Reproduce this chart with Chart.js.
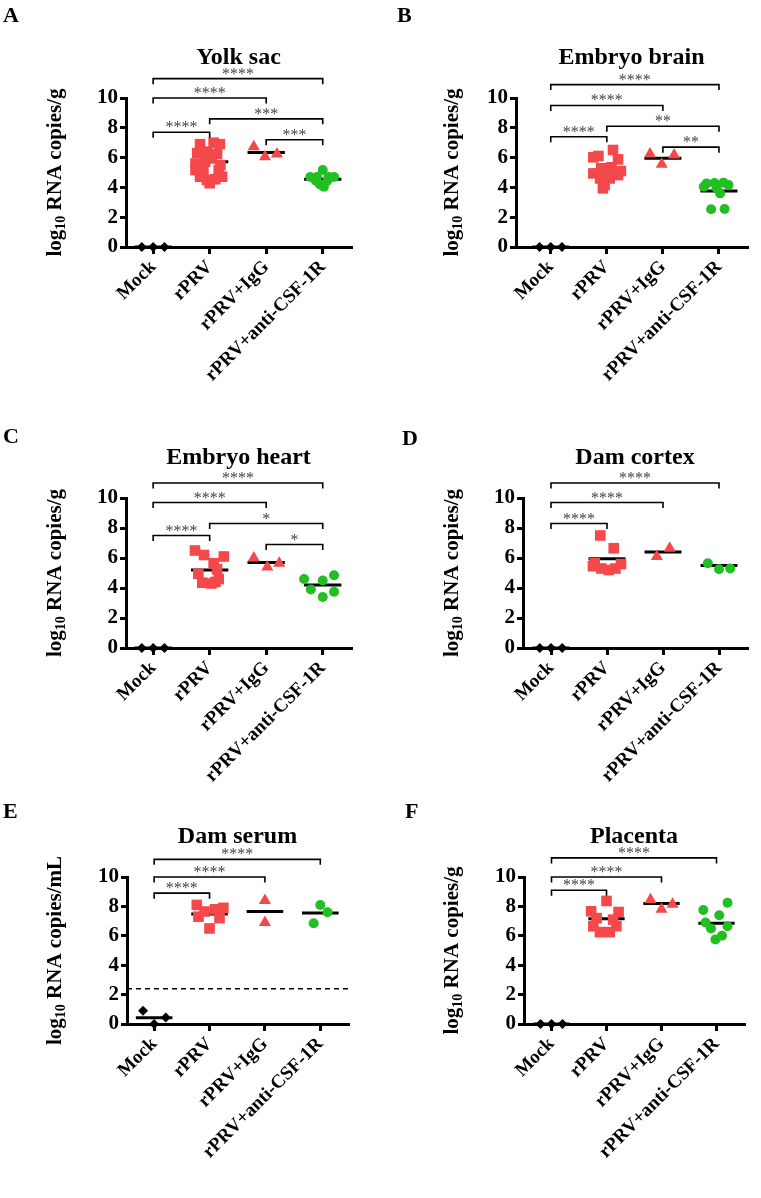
<!DOCTYPE html>
<html>
<head>
<meta charset="utf-8">
<script src="https://cdn.jsdelivr.net/npm/chart.js@4.4.0/dist/chart.umd.min.js"></script>
<style>
  html, body { margin: 0; padding: 0; background: #fff; }
  #wrap { position: relative; width: 761px; height: 1198px; }
  .panel { position: absolute; }
</style>
</head>
<body>
<div id="wrap"></div>
<script>
// groups on the x axis
const groups = ['Mock', 'rPRV', 'rPRV+IgG', 'rPRV+anti-CSF-1R'];
const yTicks = [0, 2, 4, 6, 8, 10];

// A - Yolk sac
const yolkValues = [
  [0, 0, 0],
  [6.9, 7.0, 6.9, 6.3, 6.4, 6.25, 5.95, 5.6, 5.72, 5.5, 5.16, 5.05, 5.16, 4.72, 4.72, 4.5, 4.55, 4.28],
  [6.73, 6.06, 6.24],
  [5.17, 4.7, 4.7, 4.7, 4.7, 4.45, 4.45, 4.2, 4.05]
];
const yolkJitter = [
  [-0.2, 0, 0.2],
  [-0.17, 0.07, 0.18, -0.22, -0.05, 0.13, 0.04, -0.25, -0.08, 0.19, -0.25, -0.11, 0.16, 0.22, -0.17, -0.05, 0.1, 0],
  [-0.22, -0.02, 0.19],
  [0, -0.22, -0.1, 0.1, 0.2, -0.12, 0.08, -0.05, 0.02]
];
const yolkMeans = [0, 5.72, 6.35, 4.54];
const yolkBrackets = [[0, 3, 11.3, '****'], [0, 2, 10.0, '****'], [1, 3, 8.6, '***'], [0, 1, 7.7, '****'], [2, 3, 7.2, '***']];

// B - Embryo brain
const brainValues = [
  [0, 0, 0],
  [6.51, 6.11, 5.88, 6.02, 5.28, 5.35, 4.94, 4.83, 4.6, 4.6, 4.16, 3.94, 5.1, 4.9],
  [6.24, 5.55, 6.17],
  [4.27, 4.32, 4.16, 3.94, 3.6, 4.05, 2.53, 2.55, 4.3]
];
const brainJitter = [
  [-0.2, 0, 0.2],
  [0.11, -0.15, 0.2, -0.24, -0.1, 0.08, -0.24, 0.2, -0.12, 0.05, -0.04, -0.07, 0.25, 0],
  [-0.23, -0.02, 0.2],
  [-0.22, 0.08, 0.17, -0.04, 0.02, -0.27, -0.14, 0.1, -0.08]
];
const brainMeans = [0, 5.05, 5.95, 3.76];
const brainBrackets = [[0, 3, 10.9, '****'], [0, 2, 9.5, '****'], [1, 3, 8.1, '**'], [0, 1, 7.4, '****'], [2, 3, 6.7, '**']];

// C - Embryo heart
const heartValues = [
  [0, 0, 0],
  [6.5, 6.2, 6.1, 5.65, 5.25, 4.95, 4.6, 4.35, 4.3, 4.4],
  [6.0, 5.4, 5.65],
  [4.6, 4.5, 4.85, 3.9, 3.75, 3.4]
];
const heartJitter = [
  [-0.2, 0, 0.2],
  [-0.26, -0.1, 0.25, 0.07, 0.13, -0.2, 0.16, -0.13, 0.03, 0.1],
  [-0.22, 0.02, 0.23],
  [-0.33, 0, 0.2, -0.21, 0.2, 0]
];
const heartMeans = [0, 5.2, 5.7, 4.2];
const heartBrackets = [[0, 3, 11.0, '****'], [0, 2, 9.7, '****'], [1, 3, 8.3, '*'], [0, 1, 7.5, '****'], [2, 3, 6.9, '*']];

// D - Dam cortex
const cortexValues = [
  [0, 0, 0],
  [7.5, 6.65, 5.65, 5.3, 5.2, 5.3, 5.6, 5.45],
  [6.1, 6.65],
  [5.65, 5.25, 5.3]
];
const cortexJitter = [
  [-0.2, 0, 0.2],
  [-0.12, 0.12, -0.22, -0.1, 0.03, 0.15, 0.25, -0.25],
  [-0.11, 0.12],
  [-0.2, 0, 0.2]
];
const cortexMeans = [0, 5.95, 6.4, 5.5];
const cortexBrackets = [[0, 3, 11.0, '****'], [0, 2, 9.7, '****'], [0, 1, 8.3, '****']];

// E - Dam serum
const serumValues = [
  [0.9, 0, 0.45],
  [8.1, 7.9, 7.65, 7.3, 7.2, 6.5, 7.8],
  [8.4, 6.9],
  [8.1, 7.6, 6.85]
];
const serumJitter = [
  [-0.2, 0, 0.21],
  [-0.23, 0.25, -0.09, -0.2, 0.18, 0, 0.1],
  [0, 0],
  [0, 0.13, -0.12]
];
const serumMeans = [0.43, 7.48, 7.65, 7.55];
const serumBrackets = [[0, 3, 11.2, '****'], [0, 2, 10.0, '****'], [0, 1, 8.9, '****']];
const serumLimit = 2.4;

// F - Placenta
const placentaValues = [
  [0, 0, 0],
  [8.37, 7.67, 7.62, 7.2, 7.1, 6.65, 6.65, 6.25, 6.25],
  [8.45, 7.8, 8.15],
  [8.25, 7.75, 7.4, 6.9, 6.5, 6.65, 6.0, 5.75]
];
const placentaJitter = [
  [-0.2, 0, 0.2],
  [0, -0.28, 0.22, -0.18, 0.12, -0.24, 0.18, -0.12, 0.06],
  [-0.2, 0, 0.2],
  [0.2, -0.24, 0.05, -0.2, -0.1, 0.2, 0.1, -0.02]
];
const placentaMeans = [0, 7.16, 8.2, 6.85];
const placentaBrackets = [[0, 3, 11.3, '****'], [0, 2, 10.0, '****'], [0, 1, 9.1, '****']];

const RED = '#f4484b';
const GREEN = '#22bf22';
const colors = ['#000', RED, RED, GREEN];
const shapes = ['rectRot', 'rect', 'triangle', 'circle'];
const radii = [5, 7.5, 7, 5];
const FONT = "'Liberation Serif', 'Times New Roman', serif";

// layout of the figure grid
const rowTop = [0, 392, 784];
const rowH = [392, 392, 414];
const plotTop = [98, 498, 877];
const plotBottom = [247, 648, 1024];

const panels = [
  {letter: 'A', lx: 3, ly: 22, title: 'Yolk sac', unit: 'g', col: 0, row: 0, axisX: 126, right: 351, xMin: -0.48,
   values: yolkValues, jitter: yolkJitter, means: yolkMeans, brackets: yolkBrackets},
  {letter: 'B', lx: 17, ly: 22, title: 'Embryo brain', unit: 'g', col: 1, row: 0, axisX: 516, right: 747, xMin: -0.62,
   values: brainValues, jitter: brainJitter, means: brainMeans, brackets: brainBrackets},
  {letter: 'C', lx: 3, ly: 51, title: 'Embryo heart', unit: 'g', col: 0, row: 1, axisX: 126, right: 351, xMin: -0.48,
   values: heartValues, jitter: heartJitter, means: heartMeans, brackets: heartBrackets},
  {letter: 'D', lx: 22, ly: 53, title: 'Dam cortex', unit: 'g', col: 1, row: 1, axisX: 523, right: 747, xMin: -0.5,
   values: cortexValues, jitter: cortexJitter, means: cortexMeans, brackets: cortexBrackets},
  {letter: 'E', lx: 3, ly: 34, title: 'Dam serum', unit: 'mL', col: 0, row: 2, axisX: 127, right: 348, xMin: -0.49,
   values: serumValues, jitter: serumJitter, means: serumMeans, brackets: serumBrackets, limit: serumLimit},
  {letter: 'F', lx: 25, ly: 34, title: 'Placenta', unit: 'g', col: 1, row: 2, axisX: 524, right: 744, xMin: -0.5,
   values: placentaValues, jitter: placentaJitter, means: placentaMeans, brackets: placentaBrackets}
];

function annotPlugin(p) {
  return {
    id: 'annot' + p.letter,
    afterDraw(chart) {
      const {ctx, chartArea, scales: {x, y}} = chart;
      ctx.save();
      ctx.fillStyle = '#000';
      // panel letter
      ctx.font = 'bold 22px ' + FONT;
      ctx.textAlign = 'left';
      ctx.textBaseline = 'alphabetic';
      ctx.fillText(p.letter, p.lx, p.ly);
      // title
      ctx.font = 'bold 24px ' + FONT;
      ctx.textAlign = 'center';
      ctx.fillText(p.title, (chartArea.left + chartArea.right) / 2, chartArea.top - 34);
      // y axis title with subscript
      const tx = (p.col ? 73 : 56);
      const ty = (chartArea.top + chartArea.bottom) / 2;
      const big = 'bold 21px ' + FONT, small = 'bold 14px ' + FONT;
      const rest = ' RNA copies/' + p.unit;
      ctx.font = big; const w1 = ctx.measureText('log').width; const w3 = ctx.measureText(rest).width;
      ctx.font = small; const w2 = ctx.measureText('10').width;
      const total = w1 + w2 + w3;
      ctx.translate(tx, ty);
      ctx.rotate(-Math.PI / 2);
      ctx.textAlign = 'left';
      ctx.textBaseline = 'middle';
      let cx = -total / 2;
      ctx.font = big; ctx.fillText('log', cx, 0); cx += w1;
      ctx.font = small; ctx.fillText('10', cx, 5); cx += w2;
      ctx.font = big; ctx.fillText(rest, cx, 0);
      ctx.restore();

      // significance brackets
      ctx.save();
      ctx.strokeStyle = '#000';
      ctx.lineWidth = 1.6;
      ctx.fillStyle = '#444';
      ctx.font = '16px ' + FONT;
      ctx.textAlign = 'center';
      ctx.textBaseline = 'alphabetic';
      p.brackets.forEach(([a, b, v, label]) => {
        const xa = x.getPixelForValue(a), xb = x.getPixelForValue(b), yy = y.getPixelForValue(v);
        ctx.beginPath();
        ctx.moveTo(xa, yy + 5.5);
        ctx.lineTo(xa, yy);
        ctx.lineTo(xb, yy);
        ctx.lineTo(xb, yy + 5.5);
        ctx.stroke();
        ctx.fillText(label, (xa + xb) / 2, yy);
      });
      ctx.restore();
    }
  };
}

const wrap = document.getElementById('wrap');

panels.forEach(p => {
  const colX = p.col ? 380 : 0;
  const colW = p.col ? 381 : 380;
  const top = rowTop[p.row], h = rowH[p.row];
  const div = document.createElement('div');
  div.className = 'panel';
  div.style.left = colX + 'px';
  div.style.top = top + 'px';
  div.style.width = colW + 'px';
  div.style.height = h + 'px';
  const canvas = document.createElement('canvas');
  div.appendChild(canvas);
  wrap.appendChild(div);

  const datasets = [];
  if (p.limit !== undefined) {
    datasets.push({
      data: [{x: p.xMin, y: p.limit}, {x: 3.5, y: p.limit}],
      showLine: true, borderColor: '#000', borderWidth: 1.5, borderDash: [5, 4],
      pointRadius: 0, clip: false
    });
  }
  p.values.forEach((vals, g) => {
    datasets.push({
      data: vals.map((v, i) => ({x: g + p.jitter[g][i], y: v})),
      pointStyle: shapes[g], pointRadius: radii[g],
      backgroundColor: colors[g], borderColor: colors[g], borderWidth: 0,
      showLine: false, clip: false
    });
  });
  p.means.forEach((m, g) => {
    datasets.push({
      data: [{x: g - 0.33, y: m}, {x: g + 0.33, y: m}],
      showLine: true, borderColor: '#000', borderWidth: 3, pointRadius: 0, clip: false
    });
  });

  const axisGrid = {display: true, drawOnChartArea: false, drawTicks: true, lineWidth: 3, color: '#000'};

  new Chart(canvas, {
    type: 'scatter',
    data: {datasets},
    options: {
      responsive: true,
      maintainAspectRatio: false,
      animation: false,
      events: [],
      layout: {padding: {left: 0, right: colX + colW - p.right, top: plotTop[p.row] - top, bottom: 0}},
      plugins: {legend: {display: false}, tooltip: {enabled: false}},
      scales: {
        x: {
          type: 'linear', min: p.xMin, max: 3.5,
          afterBuildTicks: s => { s.ticks = groups.map((_, i) => ({value: i})); },
          afterFit: s => { s.height = h - (plotBottom[p.row] - top); },
          ticks: {
            callback: v => groups[v], minRotation: 45, maxRotation: 45, autoSkip: false,
            color: '#000', padding: 2, font: {family: FONT, size: 19, weight: 'bold'}
          },
          grid: Object.assign({tickLength: 7}, axisGrid),
          border: {display: true, width: 3, color: '#000'}
        },
        y: {
          min: 0, max: 10,
          afterBuildTicks: s => { s.ticks = yTicks.map(v => ({value: v})); },
          afterFit: s => { s.width = p.axisX - colX; },
          ticks: {color: '#000', padding: 2, font: {family: FONT, size: 21, weight: 'bold'}},
          grid: Object.assign({tickLength: 6}, axisGrid),
          border: {display: true, width: 3, color: '#000'}
        }
      }
    },
    plugins: [annotPlugin(p)]
  });
});
</script>
</body>
</html>
